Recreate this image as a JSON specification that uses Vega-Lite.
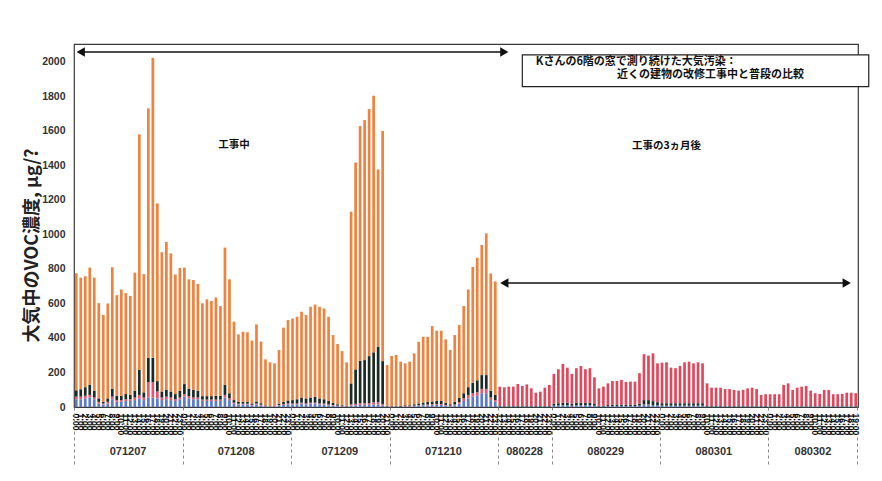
{
  "$schema": "https://vega.github.io/schema/vega-lite/v6.json",
  "width": 784,
  "height": 363,
  "autosize": {"type": "none"},
  "padding": {"left": 74, "top": 44, "right": 24, "bottom": 74},
  "background": "white",
  "config": {"view": {"stroke": "#3a3a3a", "strokeWidth": 1.2}, "font": "Liberation Sans", "axis": {"labelOverlap": false}, "axisY": {"labelOverlap": false, "labelFlush": false}},
  "resolve": {"axis": {"x": "independent"}},
  "layer": [
    {
      "data": {"values": [
        {"t":"071207 00","base":45,"low":15,"mid":37,"top":678},
        {"t":"071207 01","base":45,"low":15,"mid":43,"top":647},
        {"t":"071207 02","base":50,"low":15,"mid":50,"top":643},
        {"t":"071207 03","base":55,"low":15,"mid":60,"top":678},
        {"t":"071207 04","base":45,"low":10,"mid":40,"top":655},
        {"t":"071207 05","base":20,"low":10,"mid":20,"top":552},
        {"t":"071207 06","base":15,"low":5,"mid":10,"top":504},
        {"t":"071207 07","base":20,"low":10,"mid":20,"top":550},
        {"t":"071207 08","base":45,"low":15,"mid":45,"top":705},
        {"t":"071207 09","base":30,"low":10,"mid":25,"top":583},
        {"t":"071207 10","base":30,"low":10,"mid":25,"top":616},
        {"t":"071207 11","base":35,"low":10,"mid":30,"top":585},
        {"t":"071207 12","base":35,"low":10,"mid":25,"top":574},
        {"t":"071207 13","base":40,"low":15,"mid":40,"top":684},
        {"t":"071207 14","base":50,"low":20,"mid":145,"top":1365},
        {"t":"071207 15","base":40,"low":15,"mid":30,"top":685},
        {"t":"071207 16","base":55,"low":90,"mid":140,"top":1446},
        {"t":"071207 17","base":55,"low":90,"mid":140,"top":1740},
        {"t":"071207 18","base":50,"low":40,"mid":60,"top":1030},
        {"t":"071207 19","base":40,"low":15,"mid":35,"top":807},
        {"t":"071207 20","base":45,"low":15,"mid":40,"top":857},
        {"t":"071207 21","base":40,"low":15,"mid":35,"top":800},
        {"t":"071207 22","base":35,"low":10,"mid":30,"top":693},
        {"t":"071207 23","base":45,"low":10,"mid":40,"top":711},
        {"t":"071208 00","base":60,"low":15,"mid":58,"top":675},
        {"t":"071208 01","base":50,"low":12,"mid":45,"top":633},
        {"t":"071208 02","base":45,"low":10,"mid":45,"top":636},
        {"t":"071208 03","base":45,"low":10,"mid":40,"top":618},
        {"t":"071208 04","base":35,"low":8,"mid":20,"top":538},
        {"t":"071208 05","base":35,"low":8,"mid":20,"top":561},
        {"t":"071208 06","base":35,"low":8,"mid":20,"top":551},
        {"t":"071208 07","base":35,"low":8,"mid":22,"top":570},
        {"t":"071208 08","base":35,"low":8,"mid":22,"top":520},
        {"t":"071208 09","base":55,"low":15,"mid":58,"top":796},
        {"t":"071208 10","base":40,"low":10,"mid":30,"top":660},
        {"t":"071208 11","base":20,"low":5,"mid":15,"top":455},
        {"t":"071208 12","base":15,"low":4,"mid":10,"top":392},
        {"t":"071208 13","base":15,"low":4,"mid":12,"top":405},
        {"t":"071208 14","base":15,"low":4,"mid":10,"top":404},
        {"t":"071208 15","base":10,"low":3,"mid":8,"top":364},
        {"t":"071208 16","base":15,"low":5,"mid":12,"top":447},
        {"t":"071208 17","base":10,"low":4,"mid":8,"top":357},
        {"t":"071208 18","base":3,"low":2,"mid":4,"top":267},
        {"t":"071208 19","base":3,"low":2,"mid":3,"top":251},
        {"t":"071208 20","base":3,"low":2,"mid":3,"top":245},
        {"t":"071208 21","base":8,"low":3,"mid":8,"top":311},
        {"t":"071208 22","base":12,"low":4,"mid":14,"top":430},
        {"t":"071208 23","base":15,"low":5,"mid":18,"top":466},
        {"t":"071209 00","base":15,"low":5,"mid":20,"top":473},
        {"t":"071209 01","base":15,"low":5,"mid":25,"top":478},
        {"t":"071209 02","base":20,"low":5,"mid":30,"top":497},
        {"t":"071209 03","base":15,"low":5,"mid":30,"top":483},
        {"t":"071209 04","base":20,"low":5,"mid":30,"top":526},
        {"t":"071209 05","base":20,"low":5,"mid":35,"top":534},
        {"t":"071209 06","base":15,"low":5,"mid":30,"top":531},
        {"t":"071209 07","base":15,"low":5,"mid":25,"top":526},
        {"t":"071209 08","base":10,"low":5,"mid":20,"top":488},
        {"t":"071209 09","base":8,"low":4,"mid":12,"top":393},
        {"t":"071209 10","base":5,"low":3,"mid":8,"top":349},
        {"t":"071209 11","base":3,"low":2,"mid":5,"top":314},
        {"t":"071209 12","base":2,"low":2,"mid":3,"top":252},
        {"t":"071209 13","base":8,"low":7,"mid":122,"top":995},
        {"t":"071209 14","base":10,"low":8,"mid":200,"top":1199},
        {"t":"071209 15","base":12,"low":10,"mid":246,"top":1360},
        {"t":"071209 16","base":12,"low":10,"mid":250,"top":1391},
        {"t":"071209 17","base":12,"low":10,"mid":273,"top":1432},
        {"t":"071209 18","base":15,"low":12,"mid":290,"top":1487},
        {"t":"071209 19","base":15,"low":12,"mid":323,"top":1027},
        {"t":"071209 20","base":10,"low":8,"mid":248,"top":1334},
        {"t":"071209 21","base":2,"low":2,"mid":3,"top":236},
        {"t":"071210 00","base":2,"low":2,"mid":3,"top":289},
        {"t":"071210 01","base":2,"low":2,"mid":3,"top":295},
        {"t":"071210 02","base":2,"low":1,"mid":3,"top":257},
        {"t":"071210 03","base":3,"low":2,"mid":5,"top":243},
        {"t":"071210 04","base":3,"low":2,"mid":5,"top":253},
        {"t":"071210 05","base":5,"low":3,"mid":8,"top":295},
        {"t":"071210 06","base":8,"low":3,"mid":10,"top":357},
        {"t":"071210 07","base":10,"low":3,"mid":12,"top":382},
        {"t":"071210 08","base":10,"low":4,"mid":15,"top":378},
        {"t":"071210 09","base":12,"low":5,"mid":15,"top":437},
        {"t":"071210 10","base":12,"low":5,"mid":18,"top":407},
        {"t":"071210 11","base":12,"low":5,"mid":18,"top":407},
        {"t":"071210 12","base":8,"low":4,"mid":12,"top":368},
        {"t":"071210 13","base":5,"low":3,"mid":8,"top":314},
        {"t":"071210 14","base":10,"low":5,"mid":15,"top":387},
        {"t":"071210 15","base":20,"low":8,"mid":25,"top":422},
        {"t":"071210 16","base":35,"low":15,"mid":30,"top":505},
        {"t":"071210 17","base":50,"low":20,"mid":45,"top":566},
        {"t":"071210 18","base":60,"low":20,"mid":60,"top":672},
        {"t":"071210 19","base":65,"low":20,"mid":70,"top":710},
        {"t":"071210 20","base":80,"low":25,"mid":80,"top":754},
        {"t":"071210 21","base":80,"low":25,"mid":80,"top":821},
        {"t":"071210 22","base":40,"low":15,"mid":40,"top":679},
        {"t":"071210 23","base":30,"low":10,"mid":30,"top":658},
        {"t":"080228 12","base":3,"mid":3,"upper":112},
        {"t":"080228 13","base":3,"mid":3,"upper":108},
        {"t":"080228 14","base":3,"mid":3,"upper":112},
        {"t":"080228 15","base":3,"mid":3,"upper":112},
        {"t":"080228 16","base":3,"mid":3,"upper":127},
        {"t":"080228 17","base":3,"mid":3,"upper":116},
        {"t":"080228 18","base":3,"mid":3,"upper":125},
        {"t":"080228 19","base":3,"mid":3,"upper":102},
        {"t":"080228 20","base":3,"mid":3,"upper":77},
        {"t":"080228 21","base":3,"mid":3,"upper":83},
        {"t":"080228 22","base":3,"mid":3,"upper":106},
        {"t":"080228 23","base":3,"mid":3,"upper":122},
        {"t":"080229 00","base":8,"mid":12,"upper":172},
        {"t":"080229 01","base":10,"mid":12,"upper":197},
        {"t":"080229 02","base":10,"mid":15,"upper":225},
        {"t":"080229 03","base":10,"mid":15,"upper":203},
        {"t":"080229 04","base":8,"mid":12,"upper":172},
        {"t":"080229 05","base":10,"mid":15,"upper":200},
        {"t":"080229 06","base":10,"mid":15,"upper":213},
        {"t":"080229 07","base":10,"mid":15,"upper":194},
        {"t":"080229 08","base":10,"mid":15,"upper":200},
        {"t":"080229 09","base":8,"mid":10,"upper":154},
        {"t":"080229 10","base":3,"mid":4,"upper":101},
        {"t":"080229 11","base":3,"mid":4,"upper":111},
        {"t":"080229 12","base":5,"mid":6,"upper":126},
        {"t":"080229 13","base":6,"mid":8,"upper":137},
        {"t":"080229 14","base":6,"mid":8,"upper":137},
        {"t":"080229 15","base":6,"mid":8,"upper":143},
        {"t":"080229 16","base":6,"mid":8,"upper":131},
        {"t":"080229 17","base":6,"mid":8,"upper":133},
        {"t":"080229 18","base":6,"mid":8,"upper":133},
        {"t":"080229 19","base":8,"mid":12,"upper":176},
        {"t":"080229 20","base":15,"mid":25,"upper":266},
        {"t":"080229 21","base":15,"mid":25,"upper":258},
        {"t":"080229 22","base":12,"mid":22,"upper":277},
        {"t":"080229 23","base":10,"mid":18,"upper":225},
        {"t":"080301 00","base":8,"mid":14,"upper":235},
        {"t":"080301 01","base":8,"mid":14,"upper":237},
        {"t":"080301 02","base":8,"mid":14,"upper":206},
        {"t":"080301 03","base":8,"mid":14,"upper":203},
        {"t":"080301 04","base":8,"mid":14,"upper":216},
        {"t":"080301 05","base":8,"mid":14,"upper":237},
        {"t":"080301 06","base":8,"mid":14,"upper":241},
        {"t":"080301 07","base":8,"mid":14,"upper":231},
        {"t":"080301 08","base":8,"mid":14,"upper":237},
        {"t":"080301 09","base":8,"mid":14,"upper":231},
        {"t":"080301 10","base":3,"mid":3,"upper":131},
        {"t":"080301 11","base":3,"mid":3,"upper":106},
        {"t":"080301 12","base":3,"mid":3,"upper":106},
        {"t":"080301 13","base":3,"mid":3,"upper":106},
        {"t":"080301 14","base":3,"mid":3,"upper":98},
        {"t":"080301 15","base":3,"mid":3,"upper":98},
        {"t":"080301 16","base":3,"mid":3,"upper":93},
        {"t":"080301 17","base":3,"mid":3,"upper":89},
        {"t":"080301 18","base":3,"mid":3,"upper":93},
        {"t":"080301 19","base":3,"mid":3,"upper":102},
        {"t":"080301 20","base":3,"mid":3,"upper":106},
        {"t":"080301 21","base":3,"mid":3,"upper":98},
        {"t":"080301 22","base":3,"mid":3,"upper":64},
        {"t":"080301 23","base":3,"mid":3,"upper":68},
        {"t":"080302 00","base":3,"mid":2,"upper":69},
        {"t":"080302 01","base":3,"mid":2,"upper":69},
        {"t":"080302 02","base":3,"mid":2,"upper":69},
        {"t":"080302 03","base":3,"mid":2,"upper":123},
        {"t":"080302 04","base":3,"mid":2,"upper":132},
        {"t":"080302 05","base":3,"mid":2,"upper":94},
        {"t":"080302 06","base":3,"mid":2,"upper":107},
        {"t":"080302 07","base":3,"mid":2,"upper":113},
        {"t":"080302 08","base":3,"mid":2,"upper":117},
        {"t":"080302 09","base":3,"mid":2,"upper":90},
        {"t":"080302 10","base":3,"mid":2,"upper":75},
        {"t":"080302 11","base":3,"mid":2,"upper":71},
        {"t":"080302 12","base":3,"mid":2,"upper":94},
        {"t":"080302 13","base":3,"mid":2,"upper":94},
        {"t":"080302 14","base":3,"mid":2,"upper":69},
        {"t":"080302 15","base":3,"mid":2,"upper":69},
        {"t":"080302 16","base":3,"mid":2,"upper":71},
        {"t":"080302 17","base":3,"mid":2,"upper":78},
        {"t":"080302 18","base":3,"mid":2,"upper":78},
        {"t":"080302 19","base":3,"mid":2,"upper":75}
      ]},
      "transform": [
        {"fold": ["base", "low", "mid", "top", "upper"], "as": ["part", "v"]},
        {"filter": "isValid(datum.v)"}
      ],
      "mark": {"type": "bar"},
      "encoding": {
        "x": {
          "field": "t", "type": "ordinal",
          "scale": {"paddingInner": 0.4, "paddingOuter": 0.2},
          "axis": {"orient": "bottom", "title": null, "labelAngle": 90, "labelFontSize": 8.5, "labelFontWeight": "bold", "labelPadding": 6,
                   "labelExpr": "parseInt(substring(datum.value, 7)) + ':00'", "ticks": false, "domain": false,
                   "labelOverlap": false, "labelBound": false, "labelColor": "#111", "labelAlign": "left", "labelBaseline": "middle"}
        },
        "y": {
          "field": "v", "type": "quantitative", "stack": "zero",
          "scale": {"domain": [0, 2104], "nice": false},
          "axis": {"orient": "left", "title": "大気中のVOC濃度,  μg/?", "values": [0, 200, 400, 600, 800, 1000, 1200, 1400, 1600, 1800, 2000],
                   "tickCount": 12, "format": "d", "labelOverlap": false, "labelFlush": false, "labelBound": false,
                   "grid": false, "ticks": false, "domain": false, "labelPadding": 9, "labelFontSize": 10.5,
                   "labelFontWeight": "bold", "labelColor": "#333", "titleFont": "Noto Sans CJK JP", "titleFontSize": 18,
                   "titleFontWeight": "bold", "titleColor": "#222", "titleX": -42, "titleY": 201, "titleAngle": -90,
                   "titleAlign": "center", "titleBaseline": "middle"}
        },
        "color": {
          "field": "part", "type": "nominal", "legend": null,
          "scale": {"domain": ["base", "low", "mid", "top", "upper"], "range": ["#5b7bc8", "#e8556e", "#1c2a24", "#f0823f", "#e2475c"]}
        },
        "order": {"field": "part", "sort": "ascending"}
      }
    },
    {
      "data": {"values": [
        {"a": "071207 01", "b": "080228 13", "y": 2058},
        {"a": "080228 13", "b": "080302 17", "y": 719}
      ]},
      "mark": {"type": "rule", "color": "#111", "strokeWidth": 1.4},
      "encoding": {
        "x": {"field": "a", "type": "ordinal",
              "axis": {"orient": "bottom", "title": null, "values": ["071207 11", "071208 11", "071209 10", "071210 11", "080228 17", "080229 11", "080301 11", "080302 09"],
                       "labelExpr": "substring(datum.value, 0, 6)", "labelAngle": 0, "labelFontSize": 11, "labelFontWeight": "bold",
                       "labelColor": "#333", "labelPadding": 38, "labelOffset": 2.25, "ticks": false, "domain": false, "labelBound": false}},
        "x2": {"field": "b"},
        "y": {"field": "y", "type": "quantitative"}
      }
    },
    {
      "data": {"values": [
        {"t": "071207 01", "y": 2058, "dir": "left"},
        {"t": "080228 13", "y": 2058, "dir": "right"},
        {"t": "080228 13", "y": 719, "dir": "left"},
        {"t": "080302 17", "y": 719, "dir": "right"}
      ]},
      "mark": {"type": "point", "filled": true, "size": 90, "color": "#111", "opacity": 1},
      "encoding": {
        "x": {"field": "t", "type": "ordinal",
              "axis": {"orient": "bottom", "title": null, "values": ["071207 00", "071208 00", "071209 00", "071210 00", "080228 12", "080229 00", "080301 00", "080302 00"],
                       "bandPosition": 0, "tickSize": 58, "tickDash": [3, 3], "tickColor": "#888", "tickWidth": 1, "labels": false, "domain": false}},
        "y": {"field": "y", "type": "quantitative"},
        "shape": {"field": "dir", "type": "nominal", "legend": null, "scale": {"domain": ["left", "right"], "range": ["triangle-left", "triangle-right"]}}
      }
    },
    {
      "data": {"values": [
        {"t": "071208 11", "y": 1519, "label": "工事中"},
        {"t": "080301 01", "y": 1513, "label": "工事の3ヵ月後"}
      ]},
      "mark": {"type": "text", "font": "Noto Sans CJK JP", "fontSize": 10.5, "fontWeight": "bold", "color": "#111"},
      "encoding": {
        "x": {"field": "t", "type": "ordinal",
              "axis": {"orient": "bottom", "title": null, "values": ["080302 19"], "bandPosition": 1, "tickSize": 58, "tickDash": [3, 3], "tickColor": "#888", "tickWidth": 1, "labels": false, "domain": false}},
        "y": {"field": "y", "type": "quantitative"},
        "text": {"field": "label"}
      }
    },
    {
      "data": {"values": [
        {"a": "080228 17", "b": "080302 19", "top": 2041, "bottom": 1857}
      ]},
      "mark": {"type": "rect", "fill": "white", "stroke": "#222", "strokeWidth": 1.2, "x2Offset": 13},
      "encoding": {
        "x": {"field": "a", "type": "ordinal", "axis": null},
        "x2": {"field": "b"},
        "y": {"field": "top", "type": "quantitative"},
        "y2": {"field": "bottom"}
      }
    },
    {
      "data": {"values": [
        {"t": "080228 20", "y": 1998, "label": "Kさんの6階の窓で測り続けた大気汚染："},
        {"t": "080229 14", "y": 1922, "label": "近くの建物の改修工事中と普段の比較"}
      ]},
      "mark": {"type": "text", "font": "Noto Sans CJK JP", "fontSize": 11, "fontWeight": "bold", "color": "#111", "align": "left", "baseline": "middle"},
      "encoding": {
        "x": {"field": "t", "type": "ordinal", "axis": null},
        "y": {"field": "y", "type": "quantitative"},
        "text": {"field": "label"}
      }
    }
  ]
}
